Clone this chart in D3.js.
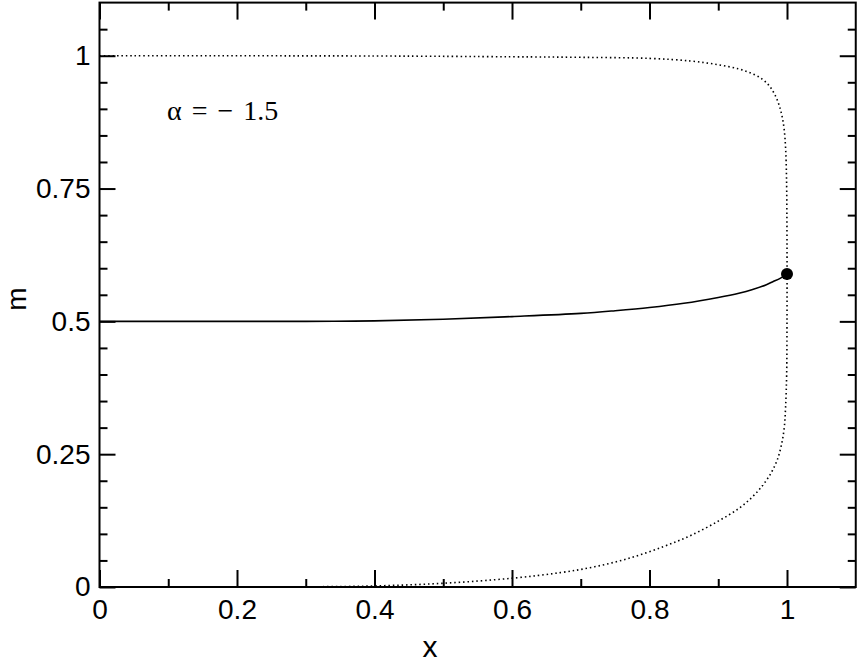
<!DOCTYPE html>
<html>
<head>
<meta charset="utf-8">
<script src="https://cdn.jsdelivr.net/npm/d3@7"></script>
<style>
  body { margin: 0; background: #fff; }
  svg { display: block; }
  .tick text { font-family: "Liberation Sans", Arial, sans-serif; font-size: 28px; fill: #000; }
  .domain { display: none; }
</style>
</head>
<body>
<div id="chart"></div>
<script>
const width = 858;
const height = 665;

// x tick labels / y tick labels
const xMajor = [0, 0.2, 0.4, 0.6, 0.8, 1];
const xMinor = [0.1, 0.3, 0.5, 0.7, 0.9];
const yMajor = [0, 0.25, 0.5, 0.75, 1];
const yMinor = [0.05, 0.1, 0.15, 0.2, 0.3, 0.35, 0.4, 0.45, 0.55, 0.6, 0.65, 0.7, 0.8, 0.85, 0.9, 0.95, 1.05];

// solid branch
const solidX = [0, 0.1, 0.2, 0.3, 0.4, 0.5, 0.6, 0.7, 0.75, 0.8, 0.85, 0.9, 0.93, 0.95, 0.97, 0.98, 0.99, 1.0];
const solidM = [0.5, 0.5, 0.5, 0.5, 0.501, 0.504, 0.509, 0.515, 0.52, 0.526, 0.534, 0.545, 0.553, 0.56, 0.569, 0.575, 0.581, 0.589];

// dotted curve: upper branch, down the x = 1 side, back along the lower branch
const dotX = [0, 0.4, 0.6, 0.7, 0.8, 0.86, 0.9, 0.93, 0.95, 0.965, 0.975, 0.983, 0.989, 0.993, 0.996, 0.998, 0.9993, 1.0,
              1.0, 0.9995, 0.998, 0.996, 0.992, 0.986, 0.977, 0.965, 0.95, 0.93, 0.9, 0.86, 0.82, 0.77, 0.72, 0.67, 0.6, 0.5, 0.4, 0.3, 0];
const dotM = [1.0, 0.9995, 0.998, 0.997, 0.995, 0.99, 0.983, 0.975, 0.966, 0.955, 0.942, 0.925, 0.905, 0.885, 0.86, 0.825, 0.77, 0.65,
              0.5, 0.4, 0.34, 0.3, 0.268, 0.24, 0.215, 0.192, 0.17, 0.148, 0.124, 0.097, 0.076, 0.054, 0.038, 0.027, 0.0165, 0.007, 0.002, 0.0004, 0];

// end point marker
const endX = [1.0];
const endM = [0.589];

const x = d3.scaleLinear().domain([0, 1.1]).range([99.5, 855.75]);
const y = d3.scaleLinear().domain([0, 1.1]).range([587, 2.6]);

const svg = d3.select("#chart")
  .append("svg")
  .attr("width", width)
  .attr("height", height);

const fmt = d => d === 0 ? "0" : String(d);
const thick = g => g.selectAll(".tick line").attr("stroke-width", 2);

// bottom axis
svg.append("g")
  .attr("transform", `translate(0,${y(0)})`)
  .call(d3.axisBottom(x).tickValues(xMajor).tickSize(-17).tickPadding(12).tickFormat(fmt))
  .call(thick);
svg.append("g")
  .attr("transform", `translate(0,${y(0)})`)
  .call(d3.axisBottom(x).tickValues(xMinor).tickSize(-8).tickFormat(""))
  .call(thick);

// top axis
svg.append("g")
  .attr("transform", `translate(0,${y(1.1)})`)
  .call(d3.axisTop(x).tickValues(xMajor).tickSize(-17).tickFormat(""))
  .call(thick);
svg.append("g")
  .attr("transform", `translate(0,${y(1.1)})`)
  .call(d3.axisTop(x).tickValues(xMinor).tickSize(-8).tickFormat(""))
  .call(thick);

// left axis
svg.append("g")
  .attr("transform", `translate(${x(0)},0)`)
  .call(d3.axisLeft(y).tickValues(yMajor).tickSize(-16).tickPadding(9).tickFormat(fmt))
  .call(thick);
svg.append("g")
  .attr("transform", `translate(${x(0)},0)`)
  .call(d3.axisLeft(y).tickValues(yMinor).tickSize(-8).tickFormat(""))
  .call(thick);

// right axis
svg.append("g")
  .attr("transform", `translate(${x(1.1)},0)`)
  .call(d3.axisRight(y).tickValues(yMajor).tickSize(-16).tickFormat(""))
  .call(thick);
svg.append("g")
  .attr("transform", `translate(${x(1.1)},0)`)
  .call(d3.axisRight(y).tickValues(yMinor).tickSize(-8).tickFormat(""))
  .call(thick);

// curves
const line = d3.line()
  .x(d => x(d[0]))
  .y(d => y(d[1]))
  .curve(d3.curveCatmullRom.alpha(0.5));

const dotted = dotX.map((d, i) => [d, dotM[i]]);
svg.append("path")
  .attr("d", line(dotted))
  .attr("fill", "none")
  .attr("stroke", "#000")
  .attr("stroke-width", 1.6)
  .attr("stroke-dasharray", "1.5,2.9");

const solid = solidX.map((d, i) => [d, solidM[i]]);
svg.append("path")
  .attr("d", line(solid))
  .attr("fill", "none")
  .attr("stroke", "#000")
  .attr("stroke-width", 1.6);

svg.selectAll("circle.end")
  .data(endX)
  .enter()
  .append("circle")
  .attr("class", "end")
  .attr("cx", d => x(d))
  .attr("cy", (d, i) => y(endM[i]))
  .attr("r", 6)
  .attr("fill", "#000");

// frame
svg.append("rect")
  .attr("x", x(0))
  .attr("y", y(1.1))
  .attr("width", x(1.1) - x(0))
  .attr("height", y(0) - y(1.1))
  .attr("fill", "none")
  .attr("stroke", "#000")
  .attr("stroke-width", 2);

// labels
svg.append("text")
  .attr("x", 430)
  .attr("y", 657)
  .attr("text-anchor", "middle")
  .style("font-family", "Liberation Sans, Arial, sans-serif")
  .style("font-size", "30px")
  .text("x");

svg.append("text")
  .attr("transform", "translate(26,299) rotate(-90)")
  .attr("text-anchor", "middle")
  .style("font-family", "Liberation Sans, Arial, sans-serif")
  .style("font-size", "28px")
  .text("m");

svg.append("text")
  .attr("x", 167)
  .attr("y", 120)
  .style("font-family", "Liberation Serif, Times New Roman, serif")
  .style("font-size", "28px")
  .style("word-spacing", "3px")
  .text("α = − 1.5");
</script>
</body>
</html>
